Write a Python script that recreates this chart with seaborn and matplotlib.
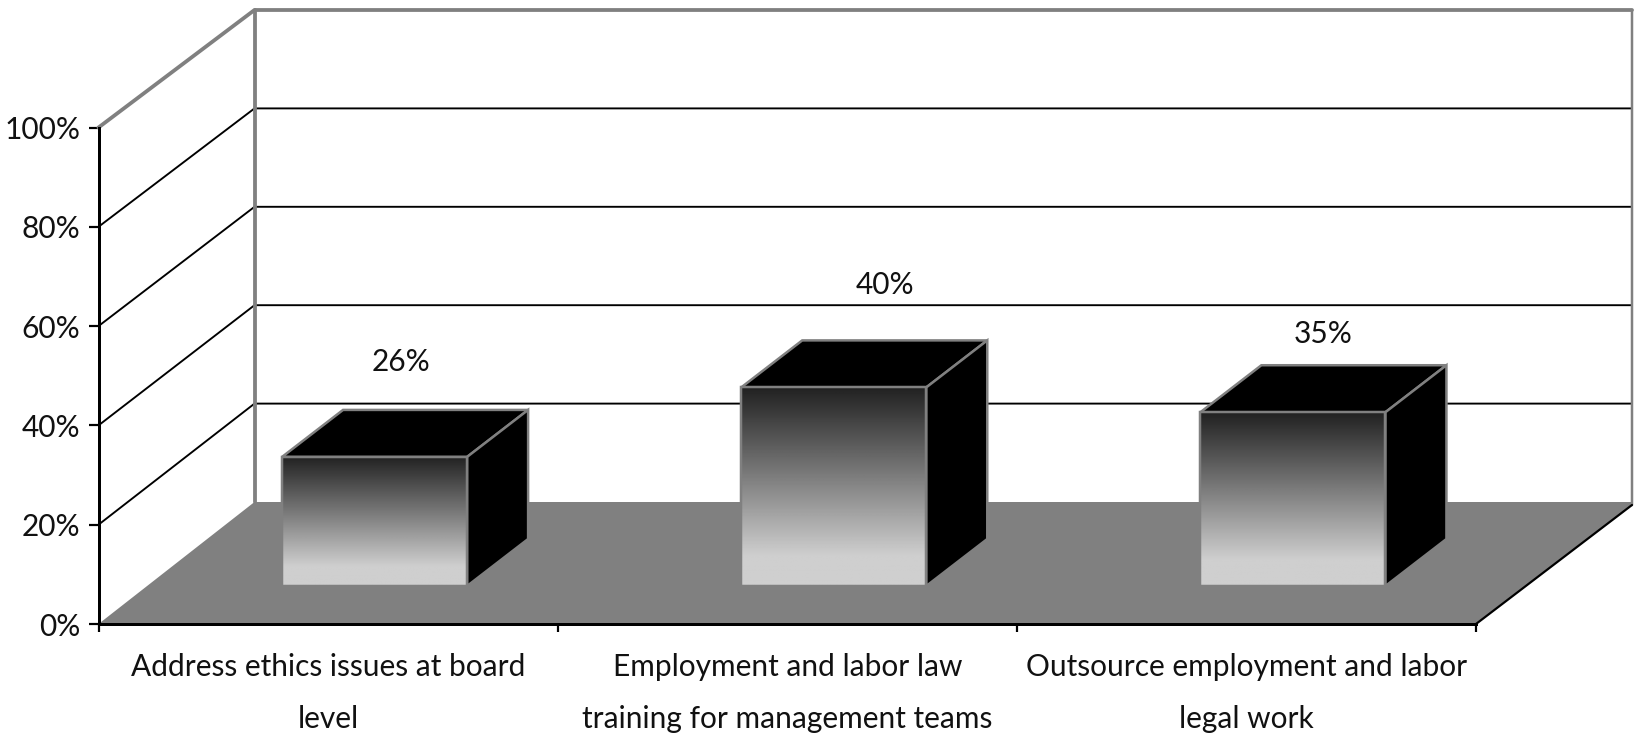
import numpy as np
import seaborn as sns
from matplotlib import pyplot as plt
from matplotlib.patches import Polygon

categories = ["Address ethics issues at board\nlevel",
              "Employment and labor law\ntraining for management teams",
              "Outsource employment and labor\nlegal work"]
values = [26, 40, 35]
y_ticks = [0, 20, 40, 60, 80, 100]

# label nudges in pixels, they don't sit in a regular place on the bars
label_dx = [73, 98, 76.5]
label_dy = [132.5, 140.5, 116]

sns.set_theme(style="white")
plt.rcParams['font.family'] = ['Lato', 'Liberation Sans', 'DejaVu Sans']
TEXT_SIZE = 21.5

W, H = 1634, 740
left, right, y0, y100 = 98.5, 1476, 624, 127.5
fig = plt.figure(figsize=(W / 100, H / 100), dpi=100)
ax = fig.add_axes([left / W, (H - y0) / H, (right - left) / W, (y0 - y100) / H])

# pixels -> data units
px_x = 3 / (right - left)
px_y = 100 / (y0 - y100)
lw = 0.72  # one pixel in points

sns.barplot(x=categories, y=values, width=0.403, color="white", edgecolor="#808080", linewidth=2.5 * lw, ax=ax)
ax.set_xlim(-0.5, 2.5)
ax.set_ylim(0, 100)

depth_x = 156 * px_x
floor_back = 122 * px_y   # back wall foot
wall_top = 100 + 117.5 * px_y
corner_y = 119 * px_y
GRAY = "#808080"


def back_y(t):
    # back wall is drawn a bit shorter than the front edge
    return floor_back + t * (wall_top - floor_back) / 100


# floor
ax.add_patch(Polygon([(-0.5, 0), (-0.5 + depth_x, floor_back), (2.5 + depth_x, floor_back), (2.5 + depth_x, corner_y), (2.5, 0)],
                     closed=True, fc=GRAY, ec="none", zorder=1, clip_on=False))

# walls and grid
for t in y_ticks[1:-1]:
    ax.plot([-0.5, -0.5 + depth_x, 2.5 + depth_x], [t, back_y(t), back_y(t)], color="black",
            lw=1.9 * lw, solid_joinstyle="miter", zorder=1.5, clip_on=False)
ax.plot([-0.5, -0.5 + depth_x, 2.5 + depth_x], [100, wall_top, wall_top], color=GRAY,
        lw=3.8 * lw, zorder=2, clip_on=False)
ax.plot([-0.5 + depth_x, -0.5 + depth_x], [floor_back, wall_top], color=GRAY, lw=3.8 * lw, zorder=2, clip_on=False)
ax.plot([2.5 + depth_x, 2.5 + depth_x], [corner_y, wall_top], color=GRAY, lw=2.5 * lw, zorder=2, clip_on=False)
ax.plot([2.5, 2.5 + depth_x], [0, corner_y], color="black", lw=2.2 * lw, zorder=2, clip_on=False)

# bars stand part way back on the floor
shift_x = 46.5 * px_x
shift_y = 38 * px_y
bar_dx = 61 * px_x
bar_dy = 47 * px_y
fade = np.clip(0.13 + 0.8 * np.linspace(0, 1, 256), 0, 0.81).reshape(-1, 1)

for bar in ax.patches[:3]:
    x0 = bar.get_x() + shift_x
    x1 = x0 + bar.get_width()
    b = shift_y
    t = b + bar.get_height()
    bar.set_x(x0)
    bar.set_y(b)
    bar.set_facecolor("none")
    bar.set_zorder(5)
    bar.set_clip_on(False)
    top = Polygon([(x0, t), (x0 + bar_dx, t + bar_dy), (x1 + bar_dx, t + bar_dy), (x1, t)], closed=True,
                  fc="black", ec=GRAY, lw=2.5 * lw, zorder=3, clip_on=False)
    side = Polygon([(x1, b), (x1 + bar_dx, b + bar_dy), (x1 + bar_dx, t + bar_dy), (x1, t)], closed=True,
                   fc="black", ec=GRAY, lw=2.5 * lw, zorder=3, clip_on=False)
    ax.add_patch(top)
    ax.add_patch(side)
    im = ax.imshow(fade, extent=(x0, x1, b, t), origin="upper", cmap="gray", vmin=0, vmax=1, aspect="auto", zorder=4)
    im.set_clip_path(bar)

ax.set_xlim(-0.5, 2.5)
ax.set_ylim(0, 100)

for i, v in enumerate(values):
    ax.annotate(f"{v}%", (i, v), xytext=(label_dx[i], label_dy[i]), textcoords="offset pixels",
                ha="center", va="center", fontsize=TEXT_SIZE, color="#111111", annotation_clip=False)

sns.despine(ax=ax)
ax.spines["left"].set_linewidth(3 * lw)
ax.spines["left"].set_color("black")
ax.spines["bottom"].set_linewidth(3 * lw)
ax.spines["bottom"].set_color("black")
ax.spines["left"].set_zorder(6)
ax.spines["bottom"].set_zorder(6)
ax.set_yticks(y_ticks)
ax.set_yticklabels([f"{t}%" for t in y_ticks], fontsize=TEXT_SIZE, color="#111111")
ax.tick_params(axis="y", left=True, length=10 * lw, width=2.2 * lw, pad=8 * lw, color="black")
ax.set_xticks([-0.5, 0.5, 1.5, 2.5])
ax.set_xticklabels([])
ax.set_xticks([0, 1, 2], minor=True)
ax.set_xticklabels(categories, minor=True, fontsize=TEXT_SIZE, color="#111111", linespacing=2.04)
ax.tick_params(axis="x", which="major", bottom=True, length=8 * lw, width=2.2 * lw, color="black")
ax.tick_params(axis="x", which="minor", bottom=False, length=0, pad=29 * lw)

fig.savefig("out.png", dpi=100)
